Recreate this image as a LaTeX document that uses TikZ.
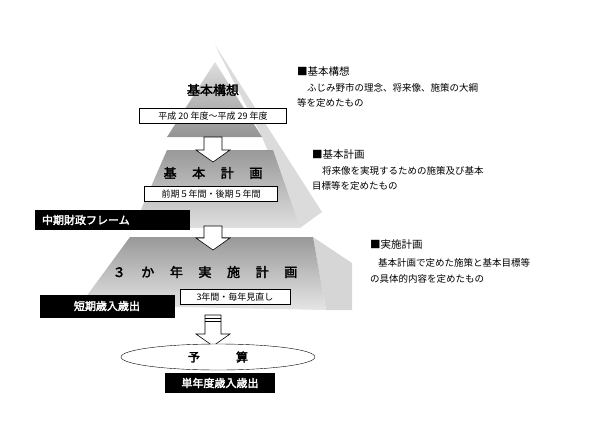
\documentclass[tikz,border=0pt]{standalone}
\usepackage{fontspec}
\newfontfamily\jp{Noto Sans CJK JP}
\newfontfamily\jpheavy[FakeBold=2.5]{Noto Sans CJK JP}
\usetikzlibrary{shapes.geometric}

\begin{document}
\begin{tikzpicture}[x=1pt, y=-1pt,
    every node/.style={font=\jp\fontsize{9}{11}\selectfont},
    datebox/.style={draw, fill=white, inner sep=2pt, minimum height=15pt},
    blacklabel/.style={fill=black, text=white, font=\jpheavy\fontsize{11}{13}\selectfont, inner sep=3pt},
    tiertitle/.style={font=\jpheavy\fontsize{13}{15}\selectfont},
    note/.style={anchor=west, inner sep=0pt, font=\jp\fontsize{9.5}{11}\selectfont},
    hollow/.style={draw, fill=white, line width=0.6pt}
]
\useasboundingbox (0,0) rectangle (600,429);

% side faces
\fill[gray!28] (215,45) -- (322,212) -- (300,228) -- (262,137) -- cycle;
\fill[gray!32] (313,237) -- (352,263) -- (352,310) -- (326,310) -- cycle;

% tiers
\shade[top color=gray!25, bottom color=gray!85] (215,62) -- (262,137) -- (167,137) -- cycle;
\shade[top color=gray!80, bottom color=gray!25] (167,150) -- (273,150) -- (300,228) -- (133,228) -- cycle;
\shade[top color=gray!80, bottom color=gray!20] (130,237) -- (313,237) -- (326,310) -- (80,305) -- cycle;

% arrows
\draw[hollow] (204,137) -- (222,137) -- (222,150) -- (230,150) -- (213,162) -- (196,150) -- (204,150) -- cycle;
\draw[hollow] (204,226) -- (222,226) -- (222,238) -- (230,238) -- (213,250) -- (196,238) -- (204,238) -- cycle;
\draw[hollow] (205,315) -- (221,315) -- (221,334) -- (230,334) -- (213,346) -- (196,334) -- (205,334) -- cycle;
\draw (205,318) -- (221,318) (205,321) -- (221,321);

% texts in tiers
\node (kihon_koso) [tiertitle] at (213,90) {基本構想};
\node (koso_period) [datebox, minimum width=147pt] at (213,116) {平成 20 年度～平成 29 年度};
\node (kihon_keikaku) [tiertitle] at (213,173) {基\hspace{1.2em}本\hspace{1.2em}計\hspace{1.2em}画};
\node (keikaku_period) [datebox, minimum width=133pt] at (211,194) {前期５年間・後期５年間};
\node (jisshi_keikaku) [tiertitle] at (205,272) {３\hspace{1.2em}か\hspace{1.2em}年\hspace{1.2em}実\hspace{1.2em}施\hspace{1.2em}計\hspace{1.2em}画};
\node (jisshi_period) [datebox, minimum width=110pt] at (235,297) {3年間・毎年見直し};

% black labels
\node (chuki_frame) [blacklabel, minimum width=155pt, minimum height=20pt, align=left, text width=140pt] at (112,220) {中期財政フレーム};
\node (tanki_saishutsu) [blacklabel, minimum width=135pt, minimum height=23pt] at (107,306) {短期歳入歳出};
\node (yosan) [ellipse, draw, fill=white, minimum width=194pt, minimum height=26pt, inner sep=0pt, font=\jpheavy\fontsize{12}{14}\selectfont] at (218,357) {予\hspace{3em}算};
\node (tannendo_saishutsu) [blacklabel, minimum width=110pt, minimum height=20pt] at (220,383) {単年度歳入歳出};

% notes
\node (koso_head) [note, font=\jp\fontsize{10.5}{12}\selectfont] at (297,72) {■基本構想};
\node (koso_l1) [note] at (307,88) {ふじみ野市の理念、将来像、施策の大綱};
\node (koso_l2) [note] at (297,103) {等を定めたもの};
\node (keikaku_head) [note, font=\jp\fontsize{10.5}{12}\selectfont] at (312,155) {■基本計画};
\node (keikaku_l1) [note] at (322,171) {将来像を実現するための施策及び基本};
\node (keikaku_l2) [note] at (312,186) {目標等を定めたもの};
\node (jisshi_head) [note, font=\jp\fontsize{10.5}{12}\selectfont] at (370,245) {■実施計画};
\node (jisshi_l1) [note] at (378,263) {基本計画で定めた施策と基本目標等};
\node (jisshi_l2) [note] at (370,279) {の具体的内容を定めたもの};

\end{tikzpicture}
\end{document}
